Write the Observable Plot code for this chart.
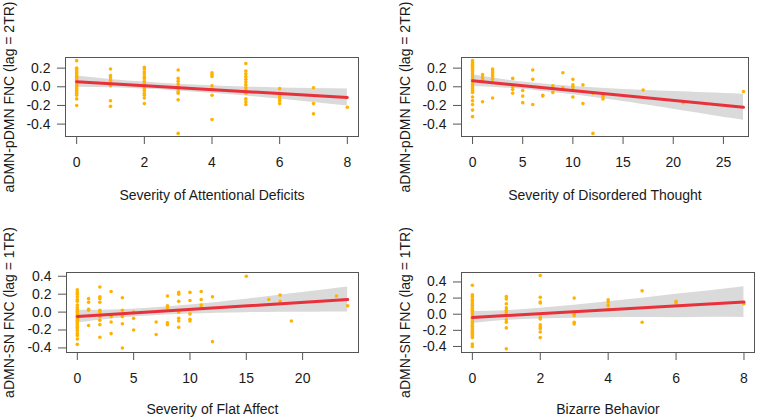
<!DOCTYPE html>
<html>
<head>
<meta charset="utf-8">
<script src="https://cdn.jsdelivr.net/npm/d3@7"></script>
<script src="https://cdn.jsdelivr.net/npm/@observablehq/plot@0.6"></script>
<style>
  body { margin: 0; background: #fff; }
  #chart { position: relative; width: 757px; height: 420px; background: #fff; overflow: hidden; }
  #chart > svg { position: absolute; }
</style>
</head>
<body>
<div id="chart"></div>
<script>
// ---------- Panel 1: Severity of Attentional Deficits ----------
const attLevels = [0, 1, 2, 3, 4, 5, 6, 7, 8];
const attFNC = [
  [0.28,0.20,0.19,0.17,0.15,0.13,0.11,0.10,0.08,0.06,0.05,0.04,0.02,0.01,0.00,-0.02,-0.04,-0.05,-0.07,-0.09,-0.13,-0.20],
  [0.19,0.12,0.10,0.07,0.05,0.03,0.01,-0.15,-0.21],
  [0.21,0.19,0.16,0.14,0.11,0.09,0.06,0.04,0.02,0.00,-0.02,-0.04,-0.07,-0.09,-0.12,-0.18],
  [0.18,0.09,0.06,0.03,0.00,-0.02,-0.05,-0.07,-0.14,-0.50],
  [0.15,0.13,0.11,0.01,-0.03,-0.09,-0.35],
  [0.25,0.17,0.14,0.11,0.08,0.05,0.02,-0.01,-0.04,-0.07,-0.13,-0.16,-0.19],
  [-0.02,-0.07,-0.10,-0.13,-0.15,-0.18],
  [-0.01,-0.18,-0.29],
  [-0.22]
];
const attFitX = [0, 8];
const attFitY = [0.055, -0.115];
const attBandX  = [0, 1, 2, 3, 4, 5, 6, 7, 8];
const attBandLo = [-0.005, -0.011, -0.025, -0.044, -0.070, -0.099, -0.132, -0.169, -0.205];
const attBandHi = [0.115, 0.079, 0.050, 0.026, 0.010, -0.003, -0.012, -0.019, -0.025];

// ---------- Panel 2: Severity of Disordered Thought ----------
const dtLevels = [0, 1, 2, 4, 5, 6, 7, 8, 9, 10, 11, 12, 13, 17, 21, 27];
const dtFNC = [
  [0.28,0.26,0.24,0.22,0.20,0.18,0.16,0.14,0.12,0.10,0.08,0.06,0.04,0.02,0.00,-0.02,-0.04,-0.06,-0.11,-0.15,-0.19,-0.25,-0.32],
  [0.13,0.10,0.08,-0.16],
  [0.19,0.17,0.15,0.13,0.11,0.08,-0.12],
  [0.09,0.00,-0.03,-0.07],
  [-0.04,-0.10,-0.17],
  [0.18,0.08,-0.19],
  [-0.09,-0.10],
  [0.01,-0.01,-0.06],
  [0.15,-0.01],
  [0.08,0.02,0.00,-0.03,-0.11],
  [0.02,-0.18],
  [-0.07,-0.50],
  [-0.09,-0.11,-0.13],
  [-0.035],
  [-0.17],
  [-0.05]
];
const dtFitX = [0, 27];
const dtFitY = [0.065, -0.22];
const dtBandX  = [0, 3, 6, 10, 15, 20, 27];
const dtBandLo = [0.002, -0.012, -0.036, -0.086, -0.158, -0.241, -0.360];
const dtBandHi = [0.128, 0.078, 0.040, 0.004, -0.028, -0.051, -0.080];

// ---------- Panel 3: Severity of Flat Affect ----------
const faLevels = [0, 1, 2, 3, 4, 5, 7, 8, 9, 10, 11, 12, 15, 17, 18, 19, 23, 24];
const faFNC = [
  [0.25,0.22,0.20,0.17,0.14,0.12,0.08,0.05,0.03,0.01,-0.01,-0.03,-0.05,-0.07,-0.09,-0.11,-0.13,-0.15,-0.17,-0.19,-0.21,-0.24,-0.26,-0.30,-0.36],
  [0.15,0.11,0.03,0.02,-0.15],
  [0.28,0.17,0.15,0.11,0.02,0.00,-0.05,-0.09,-0.14,-0.28],
  [0.23,-0.05,-0.11,-0.24],
  [0.16,0.02,-0.05,-0.13,-0.40],
  [0.00,-0.07,-0.20],
  [-0.11,-0.25],
  [0.18,0.07,0.05,-0.12,-0.14],
  [0.22,0.20,0.12,0.02,0.00,-0.07,-0.10,-0.17],
  [0.22,0.13,-0.02,-0.08,-0.10],
  [0.23,0.14,0.08,0.05],
  [0.17,-0.33],
  [0.40],
  [0.14],
  [0.19,0.12],
  [-0.10],
  [0.18],
  [0.07]
];
const faFitX = [0, 24];
const faFitY = [-0.05, 0.14];
const faBandX  = [0, 3, 6, 10, 15, 20, 24];
const faBandLo = [-0.120, -0.076, -0.046, -0.021, -0.006, -0.002, 0.000];
const faBandHi = [0.020, 0.024, 0.040, 0.079, 0.144, 0.218, 0.280];

// ---------- Panel 4: Bizarre Behavior ----------
const bbLevels = [0, 1, 2, 3, 4, 5, 6, 8];
const bbFNC = [
  [0.36,0.24,0.22,0.19,0.17,0.15,0.13,0.11,0.09,0.07,0.05,0.03,0.01,-0.01,-0.03,-0.05,-0.07,-0.09,-0.11,-0.13,-0.15,-0.17,-0.19,-0.21,-0.23,-0.25,-0.27,-0.29,-0.37,-0.40],
  [0.22,0.19,0.13,0.08,0.05,0.02,-0.02,-0.07,-0.10,-0.17,-0.43],
  [0.48,0.21,0.15,0.14,-0.04,-0.06,-0.13,-0.16,-0.18,-0.22,-0.29],
  [0.20,0.03,0.00,-0.02,-0.10,-0.12],
  [0.18,0.15,0.11,0.06],
  [0.29,-0.10],
  [0.16,0.14],
  [0.13]
];
const bbFitX = [0, 8];
const bbFitY = [-0.04, 0.15];
const bbBandX  = [0, 1, 2, 3, 4, 5, 6, 7, 8];
const bbBandLo = [-0.115, -0.076, -0.058, -0.049, -0.045, -0.041, -0.043, -0.039, -0.040];
const bbBandHi = [0.035, 0.044, 0.073, 0.111, 0.155, 0.199, 0.248, 0.291, 0.340];

// ---------- Tick values & labels ----------
const yTicksTop = [-0.4, -0.2, 0.0, 0.2];
const yTicksBottom = [-0.4, -0.2, 0.0, 0.2, 0.4];
const xTicksAtt = [0, 2, 4, 6, 8];
const xTicksDt = [0, 5, 10, 15, 20, 25];
const xTicksFa = [0, 5, 10, 15, 20];
const xTicksBb = [0, 2, 4, 6, 8];
const yLabelTop = "aDMN-pDMN FNC (lag = 2TR)";
const yLabelBottom = "aDMN-SN FNC (lag = 1TR)";
const xLabels = ["Severity of Attentional Deficits", "Severity of Disordered Thought", "Severity of Flat Affect", "Bizarre Behavior"];

const FONT = "'Liberation Sans', Arial, Helvetica, sans-serif";
const POINT = "#FFB300";
const FIT = "#E8313B";
const BAND = "#DADADA";
const AXIS = "#555555";
const TEXT = "#1a1a1a";

function panel(o) {
  const pts = o.levels.flatMap((x, i) => o.values[i].map(y => ({x, y})));
  const band = o.bandX.map((x, i) => ({x, lo: o.bandLo[i], hi: o.bandHi[i]}));
  const fit = o.fitX.map((x, i) => ({x, y: o.fitY[i]}));
  const svg = Plot.plot({
    width: o.width,
    height: o.height,
    marginLeft: o.ml, marginRight: o.mr, marginTop: o.mt, marginBottom: o.mb,
    style: {fontFamily: FONT, fontSize: "14px", color: TEXT, background: "transparent", overflow: "visible"},
    x: {domain: o.xDomain},
    y: {domain: o.yDomain},
    marks: [
      Plot.areaY(band, {x: "x", y1: "lo", y2: "hi", fill: BAND, curve: "natural"}),
      Plot.dot(pts, {x: "x", y: "y", r: 1.8, fill: POINT, stroke: "none"}),
      Plot.line(fit, {x: "x", y: "y", stroke: FIT, strokeWidth: 3}),
      Plot.frame({stroke: AXIS, strokeWidth: 1}),
      Plot.axisX({ticks: o.xTicks, tickSize: 8, tickPadding: 13, stroke: AXIS, fill: TEXT,
        tickFormat: d => String(d),
        label: o.xLabel, labelAnchor: "center", labelArrow: "none", labelOffset: o.xLabelOffset}),
      Plot.axisY({ticks: o.yTicks, tickSize: 8, tickPadding: 7, stroke: AXIS, fill: TEXT,
        tickFormat: d => d.toFixed(1),
        label: o.yLabel, labelAnchor: "center", labelArrow: "none", labelOffset: o.yLabelOffset})
    ]
  });
  svg.style.left = o.left + "px";
  svg.style.top = o.top + "px";
  return svg;
}

const chart = document.getElementById("chart");
chart.append(panel({
  left: 0, top: 0, width: 378, height: 210, ml: 65, mr: 20, mt: 57, mb: 74,
  levels: attLevels, values: attFNC, fitX: attFitX, fitY: attFitY,
  bandX: attBandX, bandLo: attBandLo, bandHi: attBandHi,
  xDomain: [-0.33, 8.33], yDomain: [-0.533, 0.314],
  xTicks: xTicksAtt, yTicks: yTicksTop, xLabel: xLabels[0], yLabel: yLabelTop,
  xLabelOffset: 63, yLabelOffset: 61
}));
chart.append(panel({
  left: 378, top: 0, width: 379, height: 210, ml: 83, mr: 9, mt: 57, mb: 74,
  levels: dtLevels, values: dtFNC, fitX: dtFitX, fitY: dtFitY,
  bandX: dtBandX, bandLo: dtBandLo, bandHi: dtBandHi,
  xDomain: [-1.1, 27.5], yDomain: [-0.533, 0.314],
  xTicks: xTicksDt, yTicks: yTicksTop, xLabel: xLabels[1], yLabel: yLabelTop,
  xLabelOffset: 63, yLabelOffset: 61
}));
chart.append(panel({
  left: 0, top: 210, width: 378, height: 210, ml: 66, mr: 20, mt: 62, mb: 68,
  levels: faLevels, values: faFNC, fitX: faFitX, fitY: faFitY,
  bandX: faBandX, bandLo: faBandLo, bandHi: faBandHi,
  xDomain: [-0.96, 24.96], yDomain: [-0.451, 0.442],
  xTicks: xTicksFa, yTicks: yTicksBottom, xLabel: xLabels[2], yLabel: yLabelBottom,
  xLabelOffset: 61, yLabelOffset: 62
}));
chart.append(panel({
  left: 378, top: 210, width: 379, height: 210, ml: 83, mr: 3, mt: 62, mb: 68,
  levels: bbLevels, values: bbFNC, fitX: bbFitX, fitY: bbFitY,
  bandX: bbBandX, bandLo: bbBandLo, bandHi: bbBandHi,
  xDomain: [-0.32, 8.31], yDomain: [-0.475, 0.5175],
  xTicks: xTicksBb, yTicks: yTicksBottom, xLabel: xLabels[3], yLabel: yLabelBottom,
  xLabelOffset: 61, yLabelOffset: 61
}));
</script>
</body>
</html>
